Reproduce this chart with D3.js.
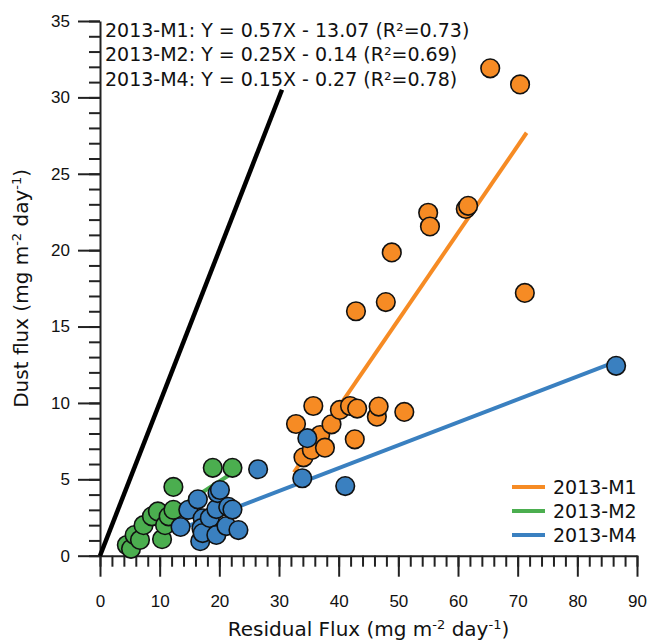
<!DOCTYPE html>
<html>
<head>
<meta charset="utf-8">
<script src="https://cdn.jsdelivr.net/npm/d3@7"></script>
<style>
  body { margin: 0; background: #fff; }
  svg { display: block; }
  .tick text { font-family: "Liberation Sans", Arial, sans-serif; font-size: 17px; fill: #111; }
  .lbl { font-family: "DejaVu Sans", Verdana, sans-serif; fill: #111; }
</style>
</head>
<body>
<div id="chart"></div>
<script>
'use strict';

// data (residual flux vs dust flux)
const seriesNames = ['2013-M1', '2013-M2', '2013-M4'];
const seriesColors = ['#F68B24', '#4BAE4F', '#3A80C0'];

const m1X = [32.85, 34.1, 35.5, 35.75, 36.9, 37.7, 38.8, 40.2, 41.9, 42.7, 43.1, 42.9, 46.4, 46.7, 47.9, 48.9, 51.0, 55.0, 55.3, 61.3, 61.7, 65.4, 70.4, 71.2];
const m1Y = [8.62, 6.44, 6.92, 9.8, 7.9, 7.07, 8.6, 9.54, 9.8, 7.62, 9.63, 16.0, 9.1, 9.76, 16.6, 19.85, 9.41, 22.45, 21.55, 22.7, 22.9, 31.9, 30.85, 17.2];

const m2X = [4.5, 5.2, 5.8, 6.7, 7.3, 8.7, 9.7, 10.4, 10.9, 11.5, 12.3, 12.3, 18.9, 22.2];
const m2Y = [0.7, 0.45, 1.35, 1.03, 2.0, 2.58, 2.9, 1.08, 2.0, 2.58, 3.0, 4.5, 5.75, 5.75];

const m4X = [13.5, 14.8, 16.4, 17.2, 16.8, 17.0, 17.2, 18.4, 19.5, 19.5, 19.7, 20.1, 21.2, 21.5, 22.2, 23.2, 26.5, 33.9, 34.75, 41.1, 86.5];
const m4Y = [1.88, 3.0, 3.69, 2.45, 0.95, 1.8, 1.48, 2.47, 1.36, 3.05, 4.1, 4.3, 1.94, 3.2, 3.02, 1.68, 5.66, 5.07, 7.69, 4.56, 12.43];

// regression fits
const fitSlope = [0.57, 0.25, 0.15];
const fitIntercept = [-13.07, -0.14, -0.27];
const fitR2 = ['0.73', '0.69', '0.78'];
const fitFrom = [32.5, 4.5, 13.5];
const fitTo = [71.5, 22.2, 86.5];

const oneToOne = [0, 30.5];

const xMajor = d3.range(0, 91, 10);
const xMinor = d3.range(0, 91, 2);
const yMajor = d3.range(0, 36, 5);
const yMinor = d3.range(0, 36, 1);

((d3) => {
    const width = 648;
    const height = 643;

    const x = d3.scaleLinear().domain([0, 90]).range([100, 637]);
    const y = d3.scaleLinear().domain([0, 35]).range([555.7, 21]);

    const svg = d3.select('#chart')
        .append('svg')
        .attr('width', width)
        .attr('height', height);

//axes: minor ticks first, then major with labels
    const axisColor = '#222';
    svg.append('g')
        .attr('transform', 'translate(0,' + y(0) + ')')
        .call(d3.axisBottom(x).tickValues(xMinor).tickSize(11).tickFormat(''))
        .call(g => g.select('.domain').remove());
    svg.append('g')
        .attr('transform', 'translate(0,' + y(0) + ')')
        .call(d3.axisBottom(x).tickValues(xMajor).tickSize(21).tickSizeOuter(0).tickPadding(18));

    svg.append('g')
        .attr('transform', 'translate(' + x(0) + ',0)')
        .call(d3.axisLeft(y).tickValues(yMinor).tickSize(11).tickFormat(''))
        .call(g => g.select('.domain').remove());
    svg.append('g')
        .attr('transform', 'translate(' + x(0) + ',0)')
        .call(d3.axisLeft(y).tickValues(yMajor).tickSize(22).tickSizeOuter(0).tickPadding(8));

    svg.selectAll('.domain, .tick line')
        .attr('stroke', axisColor)
        .attr('stroke-width', 2);

//1:1 line
    svg.append('line')
        .attr('x1', x(oneToOne[0])).attr('y1', y(oneToOne[0]))
        .attr('x2', x(oneToOne[1])).attr('y2', y(oneToOne[1]))
        .attr('stroke', '#000')
        .attr('stroke-width', 4.5);

    const series = [
        { xs: m1X, ys: m1Y },
        { xs: m2X, ys: m2Y },
        { xs: m4X, ys: m4Y }
    ];

//fit line then points for each series
    series.forEach((s, i) => {
        const f = (v) => fitSlope[i] * v + fitIntercept[i];
        svg.append('line')
            .attr('x1', x(fitFrom[i])).attr('y1', y(f(fitFrom[i])))
            .attr('x2', x(fitTo[i])).attr('y2', y(f(fitTo[i])))
            .attr('stroke', seriesColors[i])
            .attr('stroke-width', 4);

        svg.append('g')
            .selectAll('circle')
            .data(s.xs.map((v, j) => [v, s.ys[j]]))
            .enter()
            .append('circle')
            .attr('cx', d => x(d[0]))
            .attr('cy', d => y(d[1]))
            .attr('r', 9.3)
            .attr('fill', seriesColors[i])
            .attr('stroke', '#111')
            .attr('stroke-width', 1.6);
    });

//equations at top left
    const eq = svg.append('g').attr('class', 'lbl').style('font-size', '19px');
    seriesNames.forEach((name, i) => {
        const sign = fitIntercept[i] < 0 ? ' - ' : ' + ';
        eq.append('text')
            .attr('x', 105)
            .attr('y', 36.5 + i * 24.7)
            .text(name + ': Y = ' + fitSlope[i].toFixed(2) + 'X' + sign +
                Math.abs(fitIntercept[i]).toFixed(2) + ' (R\u00B2=' + fitR2[i] + ')');
    });

//legend
    const legend = svg.selectAll('.legend')
        .data(seriesNames)
        .enter()
        .append('g')
        .attr('class', 'legend')
        .attr('transform', (d, i) => 'translate(512,' + (487 + i * 24) + ')');
    legend.append('line')
        .attr('x1', 0).attr('x2', 33)
        .attr('stroke', (d, i) => seriesColors[i])
        .attr('stroke-width', 4);
    legend.append('text')
        .attr('class', 'lbl')
        .attr('x', 41)
        .attr('y', 6.8)
        .style('font-size', '19px')
        .text(d => d);

//axis titles with superscripts
    const unitTitle = (sel, base) => {
        sel.append('tspan').text(base + ' (mg m');
        sel.append('tspan').attr('baseline-shift', 'super').style('font-size', '13px').text('-2');
        sel.append('tspan').text(' day');
        sel.append('tspan').attr('baseline-shift', 'super').style('font-size', '13px').text('-1');
        sel.append('tspan').text(')');
    };

    svg.append('text')
        .attr('class', 'lbl')
        .attr('x', (x(0) + x(90)) / 2)
        .attr('y', 636)
        .attr('text-anchor', 'middle')
        .style('font-size', '20px')
        .call(unitTitle, 'Residual Flux');

    svg.append('text')
        .attr('class', 'lbl')
        .attr('transform', 'translate(28,' + (y(0) + y(35)) / 2 + ') rotate(-90)')
        .attr('text-anchor', 'middle')
        .style('font-size', '20px')
        .call(unitTitle, 'Dust flux');

})(window.d3);
</script>
</body>
</html>
